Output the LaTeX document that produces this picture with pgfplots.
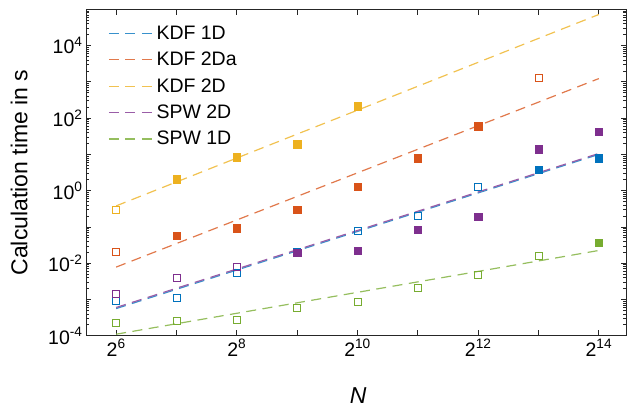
\documentclass[border=0pt]{standalone}
\usepackage{fontspec}
\setmainfont{Liberation Sans}
\usepackage{pgfplots}
\pgfplotsset{compat=1.18}

\definecolor{cblue}{RGB}{0,114,189}
\definecolor{corange}{RGB}{217,83,25}
\definecolor{cyellow}{RGB}{237,177,32}
\definecolor{cpurple}{RGB}{126,47,142}
\definecolor{cgreen}{RGB}{119,172,48}
\definecolor{axgray}{RGB}{38,38,38}

\newcommand{\tickfont}{\fontsize{19.5bp}{23bp}\selectfont}
\newcommand{\labelfont}{\fontsize{23bp}{27bp}\selectfont}

\pgfplotsset{
  fitline/.style={draw=#1!78!white, dash pattern=on 10bp off 6.5bp, line width=1.2bp, no markers},
  openmk/.style={only marks, mark=square, mark size=3.5bp, mark options={line width=0.9bp, solid}},
  fillmk/.style={only marks, mark=square*, mark size=3.8bp, mark options={line width=0.3bp, solid}},
}

\begin{document}
\begin{tikzpicture}
\useasboundingbox (-86bp,-72.3bp) rectangle (541bp,335.7bp);
\begin{axis}[
  at={(0,0)}, anchor=south west,
  scale only axis, width=540bp, height=326.4bp,
  xmode=log, ymode=log, log basis x=2,
  xmin=45.25, xmax=22385, ymin=1e-4, ymax=1e5,
  axis line style={axgray, line width=0.7bp},
  every tick/.style={axgray, line width=0.7bp},
  major tick length=5.5bp, minor tick length=3.5bp,
  tick align=inside,
  xtick={64,128,256,512,1024,2048,4096,8192,16384},
  xticklabels={2\textsuperscript{6},{},2\textsuperscript{8},{},2\textsuperscript{10},{},2\textsuperscript{12},{},2\textsuperscript{14}},
  ytick={1e-4,1e-3,1e-2,1e-1,1,1e1,1e2,1e3,1e4,1e5},
  yticklabels={10\textsuperscript{-4},{},10\textsuperscript{-2},{},10\textsuperscript{0},{},10\textsuperscript{2},{},10\textsuperscript{4},{}},
  minor ytick={2e-4,3e-4,4e-4,5e-4,6e-4,7e-4,8e-4,9e-4,
               2e-3,3e-3,4e-3,5e-3,6e-3,7e-3,8e-3,9e-3,
               2e-2,3e-2,4e-2,5e-2,6e-2,7e-2,8e-2,9e-2,
               2e-1,3e-1,4e-1,5e-1,6e-1,7e-1,8e-1,9e-1,
               2,3,4,5,6,7,8,9,
               20,30,40,50,60,70,80,90,
               200,300,400,500,600,700,800,900,
               2000,3000,4000,5000,6000,7000,8000,9000,
               20000,30000,40000,50000,60000,70000,80000,90000},
  tick label style={font=\tickfont, text=black},
  xlabel={\textit{N}},
  ylabel={Calculation time in s},
  every axis x label/.style={at={(axis description cs:0.504,-0.182)}, anchor=center, font=\labelfont, text=black},
  every axis y label/.style={at={(axis description cs:-0.124,0.5)}, rotate=90, anchor=center, font=\labelfont, text=black},
  legend cell align=left,
  legend image code/.code={\draw[#1] (0bp,0bp) -- (43bp,0bp);},
  legend style={at={(axis description cs:0.0413,0.955)}, anchor=north west,
    draw=none, fill=none, inner sep=0pt, outer sep=0pt,
    font=\tickfont, row sep=7.3bp, column sep=2bp},
]

% measured run times, open squares
\addplot[openmk, cblue, forget plot] coordinates {
  (64,9.3e-4) (128,1.08e-3) (256,5.5e-3) (512,0.021) (1024,0.078) (2048,0.20) (4096,1.26)};
\addplot[fillmk, cblue, forget plot] coordinates {
  (8192,3.8) (16384,8.0)};
\addplot[openmk, corange, forget plot] coordinates {
  (64,0.020) (8192,1260)};
\addplot[fillmk, corange, forget plot] coordinates {
  (128,0.057) (256,0.094) (512,0.30) (1024,1.3) (2048,8.0) (4096,59)};
\addplot[openmk, cyellow, forget plot] coordinates {
  (64,0.30)};
\addplot[fillmk, cyellow, forget plot] coordinates {
  (128,2.1) (256,8.5) (512,19.4) (1024,212)};
\addplot[openmk, cpurple, forget plot] coordinates {
  (64,1.4e-3) (128,3.8e-3) (256,7.8e-3)};
\addplot[fillmk, cpurple, forget plot] coordinates {
  (512,0.0196) (1024,0.022) (2048,0.083) (4096,0.19) (8192,13.7) (16384,42)};
\addplot[openmk, cgreen, forget plot] coordinates {
  (64,2.3e-4) (128,2.6e-4) (256,2.8e-4) (512,5.9e-4) (1024,8.7e-4) (2048,2.1e-3) (4096,4.7e-3) (8192,0.0156)};
\addplot[fillmk, cgreen, forget plot] coordinates {
  (16384,0.037)};

% power-law fits
\addplot[fitline=cblue] coordinates {(64,5.6e-4) (16384,10.0)};
\addlegendentry{KDF 1D}
\addplot[fitline=corange] coordinates {(64,7.8e-3) (16384,1230)};
\addlegendentry{KDF 2Da}
\addplot[fitline=cyellow] coordinates {(64,0.38) (16384,7.2e4)};
\addlegendentry{KDF 2D}
\addplot[fitline=cpurple] coordinates {(64,6.0e-4) (16384,10.6)};
\addlegendentry{SPW 2D}
\addplot[fitline=cgreen] coordinates {(64,1.1e-4) (16384,0.0224)};
\addlegendentry{SPW 1D}
\end{axis}
\end{tikzpicture}
\end{document}
